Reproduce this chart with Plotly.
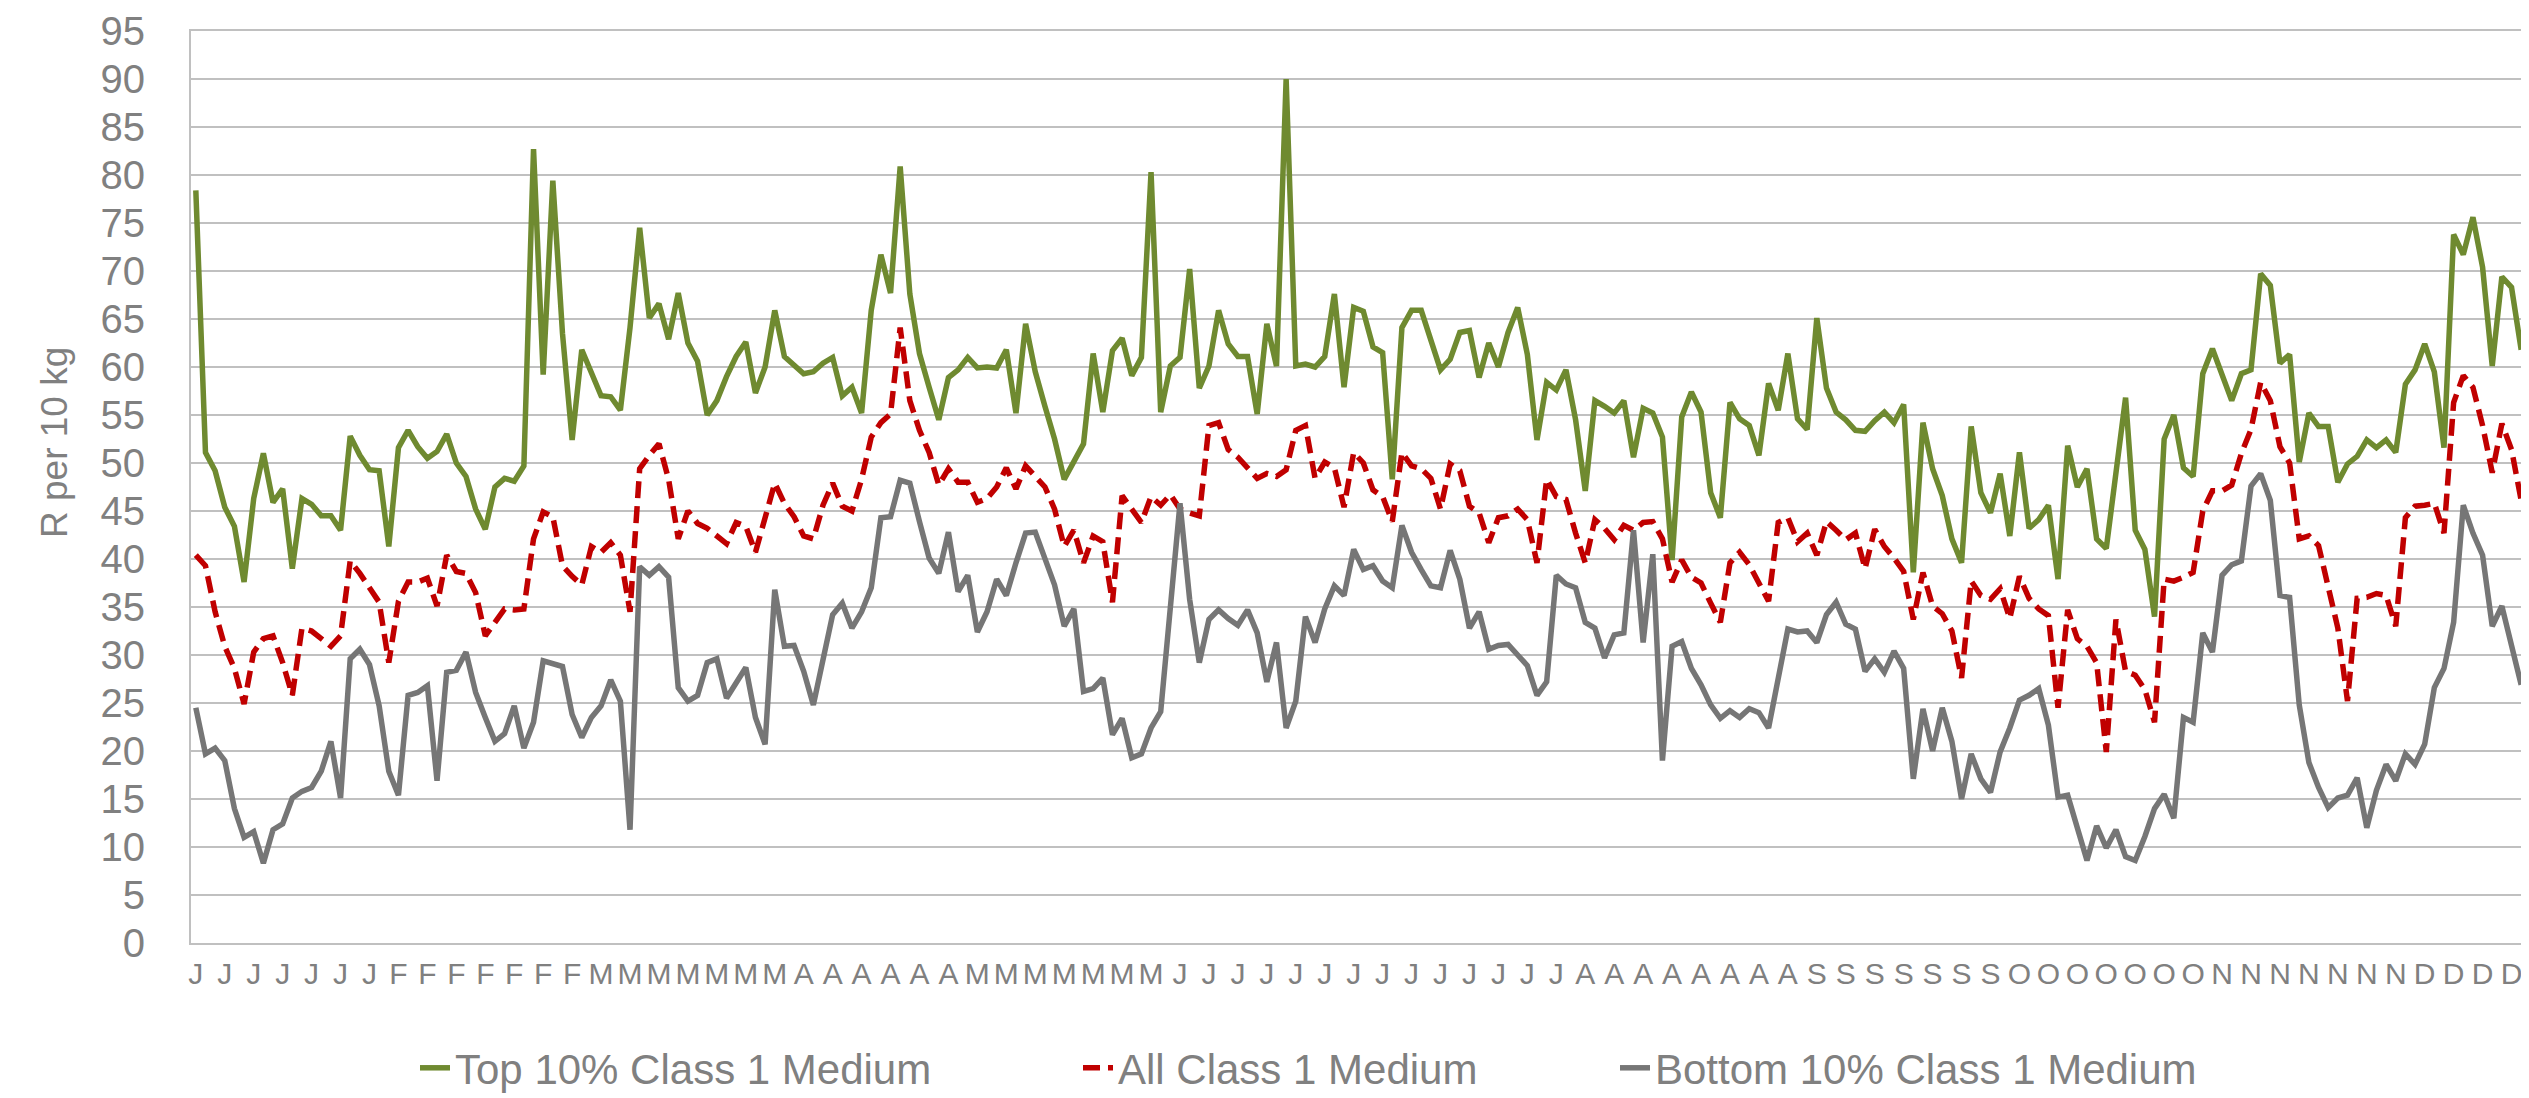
import plotly.graph_objects as go

top10 = [78.4, 51.1, 49.2, 45.4, 43.4, 37.6, 46.3, 51.0, 45.9, 47.3, 39.0, 46.3, 45.7, 44.5, 44.5, 43.0,
         52.8, 50.8, 49.3, 49.2, 41.3, 51.6, 53.4, 51.7, 50.5, 51.2, 53.0, 50.0, 48.6, 45.2, 43.1, 47.5,
         48.4, 48.1, 49.7, 82.7, 59.2, 79.4, 63.5, 52.4, 61.8, 59.3, 57.0, 56.9, 55.5, 64.1, 74.5, 65.1,
         66.6, 62.9, 67.7,
         62.5, 60.6, 55.0, 56.5, 59.0, 61.1, 62.6, 57.3, 60.0, 65.9, 61.1, 60.1, 59.3, 59.5, 60.4, 61.0,
         57.0, 57.9, 55.2, 65.9, 71.7, 67.7, 80.9, 67.6, 61.4, 57.9, 54.5, 58.9, 59.7, 61.0, 59.9, 60.0,
         59.9, 61.8, 55.2, 64.5, 59.5, 55.9, 52.5, 48.3, 50.3, 52.0, 61.4, 55.3, 61.7, 63.0, 59.1, 61.0,
         80.3,
         55.3, 60.1, 61.0, 70.2, 57.8, 60.1, 65.9, 62.4, 61.1, 61.1, 55.1, 64.5, 60.1, 90.0, 60.1, 60.3,
         60.0, 61.1, 67.6, 57.9, 66.2, 65.8, 62.1, 61.5, 48.3, 64.1, 65.9, 65.9, 62.8, 59.7, 60.8, 63.6,
         63.8, 58.9, 62.5, 60.0, 63.6, 66.2, 61.3, 52.4, 58.4, 57.6, 59.7, 54.5, 47.1, 56.5, 55.9, 55.2,
         56.5, 50.6,
         55.7, 55.2, 52.7, 39.9, 54.8, 57.4, 55.3, 46.9, 44.3, 56.3, 54.6, 53.9, 50.8, 58.3, 55.5, 61.4,
         54.6, 53.5, 65.1, 57.8, 55.3, 54.5, 53.4, 53.3, 54.4, 55.3, 54.2, 56.1, 38.6, 54.2, 49.4, 46.6,
         42.1, 39.6, 53.8, 46.9, 44.8, 48.9, 42.4, 51.1, 43.2, 44.1, 45.6, 37.9, 51.8, 47.5, 49.4, 42.1,
         41.1, 49.0,
         56.8, 43.0, 41.0, 34.0, 52.5, 55.0, 49.5, 48.6, 59.3, 61.9, 59.0, 56.5, 59.3, 59.7, 69.7, 68.5,
         60.4, 61.3, 50.1, 55.2, 53.8, 53.8, 48.0, 49.9, 50.7, 52.4, 51.6, 52.4, 51.1, 58.2, 59.7, 62.4,
         59.5, 51.6, 73.8, 71.7, 75.6, 70.4, 60.1, 69.4, 68.3, 61.8]

all_class = [40.4, 39.3, 34.5, 30.9, 28.6, 24.9, 30.3, 31.7, 32.0, 29.2, 25.8, 32.8, 32.5, 31.7, 30.9, 32.0,
             39.8, 38.5, 37.0, 35.5, 29.2, 35.6, 37.6, 37.6, 38.0, 35.1, 40.4, 38.7, 38.5, 36.5, 32.0, 33.4,
             34.8, 34.7, 34.8, 42.1, 44.9, 44.4, 39.3, 38.2, 37.3, 41.3, 40.7, 41.7, 40.4, 34.5, 49.4, 50.8,
             52.0, 48.3, 42.1,
             45.0, 43.7, 43.2, 42.4, 41.6, 43.8, 43.4, 40.7, 44.4, 47.9, 45.8, 44.4, 42.4, 42.1, 45.6, 47.9,
             45.5, 45.0, 48.3, 52.7, 54.2, 55.1, 64.1, 56.5, 53.4, 51.1, 47.7, 49.4, 48.0, 48.0, 45.9, 46.3,
             47.5, 49.5, 47.3, 49.7, 48.6, 47.5, 45.2, 41.3, 43.0, 39.6, 42.4, 41.8, 35.5, 46.6, 45.2, 43.8,
             46.5,
             45.6, 46.7, 45.2, 44.8, 44.5, 53.9, 54.2, 51.4, 50.6, 49.5, 48.4, 48.9, 48.6, 49.3, 53.4, 53.9,
             48.4, 50.1, 49.5, 45.4, 51.1, 50.0, 47.2, 46.5, 43.9, 51.1, 49.7, 49.4, 48.4, 45.2, 49.9, 49.2,
             45.5, 44.8, 41.7, 44.3, 44.5, 45.2, 44.1, 39.6, 48.3, 46.5, 46.2, 42.7, 39.6, 44.1, 43.2, 42.0,
             43.5, 43.0,
             43.8, 43.9, 42.1, 37.6, 39.9, 38.1, 37.5, 35.4, 33.4, 39.6, 40.7, 39.4, 37.6, 35.6, 43.8, 44.3,
             41.8, 42.7, 40.4, 43.9, 43.0, 42.0, 42.7, 39.0, 43.1, 41.3, 40.1, 38.7, 33.7, 38.6, 35.1, 34.3,
             32.5, 27.6, 37.7, 36.2, 35.8, 36.9, 33.8, 38.2, 35.9, 34.8, 34.1, 24.5, 34.7, 31.7, 30.9, 29.2,
             19.9, 33.7,
             28.3, 27.9, 26.4, 23.0, 37.9, 37.7, 38.1, 38.6, 45.0, 47.1, 47.1, 47.7, 51.0, 53.5, 58.4, 56.5,
             51.7, 50.0, 42.1, 42.4, 41.4, 37.0, 32.8, 25.2, 35.9, 36.0, 36.4, 36.2, 33.0, 44.3, 45.5, 45.6,
             45.8, 42.7, 56.3, 59.1, 57.9, 53.9, 49.0, 54.1, 51.4, 46.1]

bottom10 = [24.5, 19.7, 20.3, 19.0, 14.0, 11.0, 11.6, 8.3, 11.8, 12.4, 15.1, 15.8, 16.2, 17.9, 21.0, 15.1,
            29.6, 30.6, 29.0, 24.7, 17.9, 15.4, 25.8, 26.1, 26.8, 16.9, 28.2, 28.4, 30.3, 26.1, 23.5, 21.0,
            21.8, 24.7, 20.3, 23.0, 29.4, 29.1, 28.8, 23.8, 21.4, 23.5, 24.7, 27.4, 25.2, 11.8, 39.2, 38.3,
            39.2, 38.1, 26.6,
            25.2, 25.8, 29.2, 29.6, 25.5, 27.2, 28.7, 23.5, 20.7, 36.8, 30.9, 31.0, 28.3, 24.8, 29.6, 34.2,
            35.4, 32.8, 34.5, 37.0, 44.3, 44.4, 48.2, 47.9, 43.9, 40.1, 38.5, 42.8, 36.6, 38.3, 32.4, 34.5,
            37.9, 36.2, 39.6, 42.7, 42.8, 40.1, 37.3, 33.0, 34.8, 26.2, 26.5, 27.6, 21.7, 23.4, 19.3, 19.7,
            22.4,
            24.1, 34.5, 45.8, 35.8, 29.2, 33.7, 34.7, 33.8, 33.1, 34.7, 32.3, 27.2, 31.3, 22.4, 25.2, 34.0,
            31.3, 34.8, 37.2, 36.2, 41.0, 38.9, 39.3, 37.7, 37.0, 43.5, 40.7, 38.9, 37.2, 37.0, 40.9, 37.9,
            32.8, 34.5, 30.6, 31.0, 31.1, 30.0, 28.9, 25.8, 27.2, 38.3, 37.4, 37.0, 33.4, 32.8, 29.7, 32.1,
            32.3, 43.0,
            31.3, 40.5, 19.0, 30.9, 31.4, 28.6, 26.9, 24.8, 23.4, 24.2, 23.5, 24.4, 24.0, 22.4, 27.5, 32.7,
            32.4, 32.5, 31.3, 34.2, 35.5, 33.2, 32.7, 28.3, 29.6, 28.2, 30.4, 28.6, 17.1, 24.4, 20.0, 24.5,
            21.0, 15.0, 19.7, 17.1, 15.7, 19.9, 22.4, 25.3, 25.8, 26.5, 22.7, 15.2, 15.4, 12.0, 8.6, 12.2,
            9.9, 11.8,
            9.0, 8.6, 11.1, 14.0, 15.5, 13.0, 23.5, 23.0, 32.3, 30.3, 38.3, 39.4, 39.8, 47.6, 48.9, 46.1,
            36.2, 36.0, 24.8, 18.8, 16.2, 14.1, 15.1, 15.4, 17.2, 12.0, 15.9, 18.6, 16.9, 19.7, 18.6, 20.7,
            26.6, 28.6, 33.4, 45.6, 42.7, 40.4, 33.0, 35.1, 30.7, 26.9]

# month initials shown under every third point
tick_labels = (["J"] * 7 + ["F"] * 7 + ["M"] * 7 + ["A"] * 6 + ["M"] * 7 + ["J"] * 14 +
               ["A"] * 8 + ["S"] * 7 + ["O"] * 7 + ["N"] * 7 + ["D"] * 4)
label_step = 3

series_names = ["Top 10% Class 1 Medium", "All Class 1 Medium", "Bottom 10% Class 1 Medium"]
y_title = "R per 10 kg"

x = list(range(len(top10)))
tick_positions = x[::label_step][:len(tick_labels)]

FONT = "Liberation Sans, Arial, sans-serif"
TXT = "#808080"
GRID = "#C0C0C0"

fig = go.Figure()
fig.add_trace(go.Scatter(x=x, y=top10, mode="lines", name=series_names[0],
                         line=dict(color="#6F8A30", width=5.5), legend="legend"))
fig.add_trace(go.Scatter(x=x, y=all_class, mode="lines", name=series_names[1],
                         line=dict(color="#C00000", width=5.5, dash="17px,8px"), legend="legend2"))
fig.add_trace(go.Scatter(x=x, y=bottom10, mode="lines", name=series_names[2],
                         line=dict(color="#767676", width=5.5), legend="legend3"))

W, H = 2529, 1098
L, R, T, B = 183, 11, 23, 163
PW, PH = W - L - R, H - T - B
leg_common = dict(orientation="h", yref="paper", y=-(1060 - (H - B)) / PH, yanchor="middle",
                  xref="paper", xanchor="left", borderwidth=0,
                  font=dict(family=FONT, size=42, color=TXT), bgcolor="rgba(0,0,0,0)")

fig.update_layout(
    width=W, height=H,
    margin=dict(l=L, r=R, t=T, b=B, autoexpand=False),
    plot_bgcolor="white", paper_bgcolor="white",
    font=dict(family=FONT, color=TXT),
    showlegend=True,
    legend=dict(x=(407 - L) / PW, **leg_common),
    legend2=dict(x=(1070 - L) / PW, **leg_common),
    legend3=dict(x=(1607 - L) / PW, **leg_common),
    xaxis=dict(range=[-0.5, len(x) - 0.5], tickmode="array", tickvals=tick_positions,
               ticktext=tick_labels, showgrid=False, zeroline=False, automargin=False,
               showline=True, linecolor=GRID, linewidth=2, mirror=True,
               ticks="", tickfont=dict(family=FONT, size=30, color=TXT),
               ticklabelstandoff=3),
    yaxis=dict(range=[0, 95], dtick=5, tick0=0, showgrid=True, gridcolor=GRID, gridwidth=1.6,
               zeroline=False, showline=True, linecolor=GRID, linewidth=2, mirror=True,
               automargin=False,
               ticks="", tickfont=dict(family=FONT, size=40, color=TXT),
               ticklabelstandoff=36),
    annotations=[dict(text=y_title, textangle=-90, xref="paper", yref="paper",
                      x=(47 - L) / PW, y=(H - B - 435) / PH,
                      xanchor="center", yanchor="middle", showarrow=False,
                      font=dict(family=FONT, size=37, color=TXT))],
)

fig.write_html("out.html")
